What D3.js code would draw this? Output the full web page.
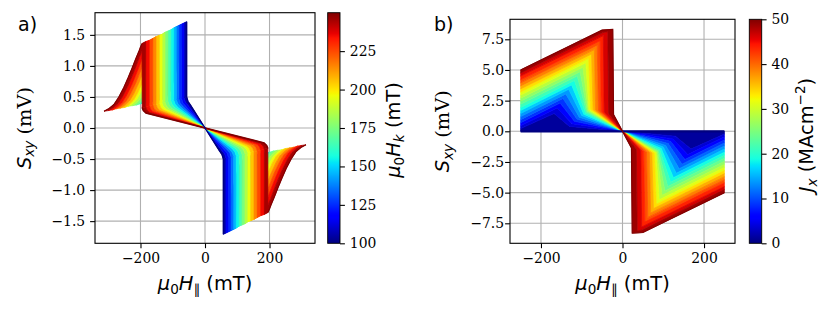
<!DOCTYPE html>
<html>
<head>
<meta charset="utf-8">
<script src="https://cdn.jsdelivr.net/npm/d3@7"></script>
<style>
  body { margin: 0; background: #fff; }
  svg { display: block; }
  .tick text { font-family: "DejaVu Serif", serif; font-size: 13.9px; fill: #000; }
  .tick line { stroke: #000; stroke-width: 1.1; }
</style>
</head>
<body>
<svg id="fig" width="831" height="312"></svg>
<script>

// ---------- panel a) one loop per anisotropy field mu0 Hk (mT) ----------
var anisotropyField = [100, 110, 120, 130, 140, 150, 160, 170, 180, 190, 200, 210, 220, 230, 240, 250]
// field where the sweep starts (|H|, mT) and signal there
var sweepLimitA = [125, 138, 150, 163, 175, 188, 200, 213, 225, 238, 250, 263, 275, 288, 300, 313]
var startSignalA = [0.47, 0.45, 0.44, 0.43, 0.41, 0.40, 0.39, 0.37, 0.36, 0.35, 0.33, 0.32, 0.31, 0.29, 0.28, 0.27]
// switching field (|H|, mT), signal just before and just after the jump
var switchFieldA = [57, 65, 73, 81, 89, 97, 106, 115, 124, 133, 142, 152, 162, 173, 184, 195]
var peakSignalA = [1.71, 1.69, 1.67, 1.65, 1.63, 1.61, 1.58, 1.56, 1.54, 1.51, 1.49, 1.47, 1.44, 1.41, 1.39, 1.36]
var dropSignalA = [0.50, 0.49, 0.48, 0.47, 0.46, 0.45, 0.44, 0.43, 0.42, 0.40, 0.39, 0.38, 0.37, 0.36, 0.34, 0.33]
// rounding and bend of the tail that runs into the origin
var roundFieldA = [53, 61, 69, 77, 85, 93, 102, 111, 120, 129, 138, 148, 158, 169, 180, 191]
var roundSignalA = [0.43, 0.42, 0.41, 0.40, 0.40, 0.39, 0.38, 0.37, 0.36, 0.345, 0.335, 0.325, 0.315, 0.305, 0.29, 0.28]
var bendFieldA = [45, 53, 61, 69, 77, 85, 94, 103, 112, 121, 130, 140, 150, 161, 172, 183]
var bendSignalA = [0.37, 0.365, 0.36, 0.35, 0.345, 0.335, 0.33, 0.32, 0.31, 0.30, 0.29, 0.28, 0.27, 0.26, 0.25, 0.24]
var riseShapeField = [0, 0.12, 0.26, 0.38, 0.52, 0.63, 0.74, 0.83, 0.92, 0.96, 1]
var riseShapeSignal = [0, 0.035, 0.10, 0.20, 0.35, 0.49, 0.64, 0.77, 0.89, 0.95, 1]

// ---------- panel b) one loop per current density Jx (MA/cm2) ----------
var currentDensity = [0, 2.5, 5, 7.5, 10, 12.5, 15, 17.5, 20, 22.5, 25, 27.5, 30, 32.5, 35, 37.5, 40, 42.5, 45, 47.5, 50]
var sweepLimitB = 250
var startSignalB = [0, 0.22, 0.45, 0.70, 0.95, 1.20, 1.45, 1.70, 1.95, 2.20, 2.45, 2.70, 2.95, 3.20, 3.45, 3.70, 3.95, 4.20, 4.50, 4.75, 5.00]
var crestFieldB = [175, 168, 160, 153, 146, 139, 132, 125, 118, 111, 104, 97, 90, 83, 76, 69, 62, 55, 47, 48, 50]
var crestSignalB = [0, 1.45, 1.90, 2.30, 2.68, 3.05, 3.42, 3.78, 4.15, 4.50, 4.86, 5.22, 5.58, 5.95, 6.30, 6.66, 7.02, 7.38, 7.80, 8.05, 8.25]
var edgeFieldB = [175, 168, 160, 153, 146, 139, 132, 125, 118, 111, 104, 97, 90, 83, 76, 69, 62, 55, 47, 36, 24]
var edgeSignalB = [0, 1.45, 1.90, 2.30, 2.68, 3.05, 3.42, 3.78, 4.15, 4.50, 4.86, 5.22, 5.58, 5.95, 6.30, 6.66, 7.02, 7.38, 7.80, 8.12, 8.30]
var footFieldB = [130, 130, 124, 118, 112, 106, 100, 95, 91, 88, 86, 84, 82, 78, 72, 66, 59, 52, 45, 34, 22]
var footSignalB = [0, 0.40, 0.62, 0.82, 1.00, 1.15, 1.28, 1.40, 1.50, 1.58, 1.64, 1.70, 1.75, 1.78, 1.76, 1.72, 1.68, 1.62, 1.55, 1.46, 1.36]

// ticks
var xTicks = [-200, 0, 200]
var yTicksA = [-1.5, -1.0, -0.5, 0, 0.5, 1.0, 1.5]
var yTicksB = [-7.5, -5.0, -2.5, 0, 2.5, 5.0, 7.5]
var cbarTicksA = [100, 125, 150, 175, 200, 225]
var cbarTicksB = [0, 10, 20, 30, 40, 50]


//matplotlib "jet"
var jetR = d3.scaleLinear().domain([0, 0.35, 0.66, 0.89, 1]).range([0, 0, 1, 1, 0.5]).clamp(true)
var jetG = d3.scaleLinear().domain([0, 0.125, 0.375, 0.64, 0.91, 1]).range([0, 0, 1, 1, 0, 0]).clamp(true)
var jetB = d3.scaleLinear().domain([0, 0.11, 0.34, 0.65, 1]).range([0.5, 1, 1, 0, 0]).clamp(true)
function jet(t) {
    return d3.rgb(jetR(t) * 255, jetG(t) * 255, jetB(t) * 255).formatHex()
}

var svg = d3.select("#fig")
svg.append("rect").attr("width", 831).attr("height", 312).attr("fill", "#fff")

var minus = function(s) { return s.replace("-", "\u2212") }

function mirror(pts) {
    //the loops are point symmetric about the origin
    return pts.map(function(p) { return [-p[0], -p[1]] })
}

function panel(opt) {

    var x = d3.scaleLinear().domain(opt.xDomain).range([opt.left, opt.right])
    var y = d3.scaleLinear().domain(opt.yDomain).range([opt.bottom, opt.top])
    var g = svg.append("g")

    //grid
    g.selectAll(".gx").data(xTicks).enter().append("line")
        .attr("x1", function(d) { return x(d) }).attr("x2", function(d) { return x(d) })
        .attr("y1", opt.top).attr("y2", opt.bottom)
        .attr("stroke", "#b0b0b0").attr("stroke-width", 1.1)
    g.selectAll(".gy").data(opt.yTicks).enter().append("line")
        .attr("y1", function(d) { return y(d) }).attr("y2", function(d) { return y(d) })
        .attr("x1", opt.left).attr("x2", opt.right)
        .attr("stroke", "#b0b0b0").attr("stroke-width", 1.1)

    var line = d3.line().x(function(d) { return x(d[0]) }).y(function(d) { return y(d[1]) })

    var layer = g.append("g")
    opt.draw(layer, line)

    //axes
    g.append("g").attr("transform", "translate(0," + opt.bottom + ")")
        .call(d3.axisBottom(x).tickValues(xTicks).tickSize(4.9).tickPadding(4.9).tickFormat(function(d) { return minus(String(d)) }))
        .call(function(a) { a.select(".domain").remove() })
    g.append("g").attr("transform", "translate(" + opt.left + ",0)")
        .call(d3.axisLeft(y).tickValues(opt.yTicks).tickSize(4.9).tickPadding(opt.yPad).tickFormat(function(d) { return minus(d3.format(".1f")(d)) }))
        .call(function(a) { a.select(".domain").remove() })

    g.append("rect")
        .attr("x", opt.left).attr("y", opt.top)
        .attr("width", opt.right - opt.left).attr("height", opt.bottom - opt.top)
        .attr("fill", "none").attr("stroke", "#000").attr("stroke-width", 1.1)

    //colour bar
    var gid = "grad" + opt.name
    var grad = svg.append("defs").append("linearGradient").attr("id", gid)
        .attr("x1", 0).attr("y1", 1).attr("x2", 0).attr("y2", 0)
    d3.range(0, 1.0001, 0.01).forEach(function(t) {
        grad.append("stop").attr("offset", t).attr("stop-color", jet(t))
    })
    var c = d3.scaleLinear().domain(opt.cDomain).range([opt.bottom, opt.ctop])
    g.append("rect")
        .attr("x", opt.cleft).attr("y", opt.ctop)
        .attr("width", opt.cright - opt.cleft).attr("height", opt.bottom - opt.ctop)
        .attr("fill", "url(#" + gid + ")").attr("stroke", "#000").attr("stroke-width", 0.9)
    g.append("g").attr("transform", "translate(" + opt.cright + ",0)")
        .call(d3.axisRight(c).tickValues(opt.cTicks).tickSize(4.9).tickPadding(4.9))
        .call(function(a) { a.select(".domain").remove() })

    //panel letter
    svg.append("text").attr("x", opt.letterX).attr("y", 31)
        .attr("font-family", "DejaVu Sans").attr("font-size", 19)
        .text(opt.name + ")")

    mathText(svg.append("text").attr("x", (opt.left + opt.right) / 2).attr("y", 290),
        [{t: "\u03bc", i: 1}, {t: "0", sub: 1}, {t: "H", i: 1}, {t: "\u2225", sub: 1}, {t: " (mT)"}])

    mathText(svg.append("text").attr("transform", "translate(" + opt.yLabelX + "," + ((opt.top + opt.bottom) / 2) + ") rotate(-90)"),
        [{t: "S", i: 1}, {t: "xy", sub: 1, i: 1}, {t: " (mV)", serif: 1}])

    mathText(svg.append("text").attr("transform", "translate(" + opt.cLabelX + "," + opt.cLabelY + ") rotate(-90)"),
        opt.cLabel)
}

function mathText(text, parts) {
    var fs = 19.4
    text.attr("text-anchor", "middle").attr("font-size", fs).attr("font-family", "DejaVu Sans")
    var shift = 0
    parts.forEach(function(p) {
        var target = p.sub ? fs * 0.2 : (p.sup ? -fs * 0.42 : 0)
        var ts = text.append("tspan").text(p.t).attr("dy", target - shift)
        if (p.sub || p.sup) ts.attr("font-size", fs * 0.7)
        if (p.i) ts.attr("font-style", "italic")
        if (p.serif) ts.attr("font-family", "DejaVu Serif")
        shift = target
    })
}

function poly(layer, line, pts, colour) {
    [pts, mirror(pts)].forEach(function(p) {
        layer.append("path").attr("d", line(p) + "Z")
            .attr("fill", colour).attr("stroke", colour).attr("stroke-width", 0.7)
    })
}

function polyline(layer, line, pts, colour, w) {
    [pts, mirror(pts)].forEach(function(p) {
        layer.append("path").attr("d", line(p))
            .attr("fill", "none").attr("stroke", colour).attr("stroke-width", w)
    })
}

// ---------------- panel a ----------------
function riseA(i) {
    var h0 = -sweepLimitA[i], h1 = -switchFieldA[i]
    var s0 = startSignalA[i], s1 = peakSignalA[i]
    return riseShapeField.map(function(f, k) {
        return [h0 + f * (h1 - h0), s0 + riseShapeSignal[k] * (s1 - s0)]
    })
}
function tailA(i) {
    return [
        [-switchFieldA[i], dropSignalA[i]],
        [-roundFieldA[i], roundSignalA[i]],
        [-bendFieldA[i], bendSignalA[i]],
        [0, 0]
    ]
}
function colourA(i) {
    var hk = (anisotropyField[i] + anisotropyField[i - 1]) / 2
    return jet((hk - 100) / 150)
}

panel({
    name: "a",
    left: 95, right: 315, top: 12.7, bottom: 243.3,
    xDomain: [-341, 341], yDomain: [-1.857, 1.857],
    yTicks: yTicksA, yPad: 4.9,
    cleft: 327.7, cright: 340, ctop: 12.7, cDomain: [100, 250], cTicks: cbarTicksA,
    letterX: 18, yLabelX: 30.5, cLabelX: 400, cLabelY: 130,
    cLabel: [{t: "\u03bc", i: 1}, {t: "0", sub: 1}, {t: "H", i: 1}, {t: "k", sub: 1, i: 1}, {t: " (mT)"}],
    draw: function(layer, line) {
        var n = anisotropyField.length
        //rising branches (the outer lobes)
        for (var i = 1; i < n; i++) {
            poly(layer, line, riseA(i).concat(riseA(i - 1).reverse()), colourA(i))
        }
        //vertical jumps
        for (var i = 1; i < n; i++) {
            poly(layer, line, [
                [-switchFieldA[i], peakSignalA[i]], [-switchFieldA[i - 1], peakSignalA[i - 1]],
                [-switchFieldA[i - 1], dropSignalA[i - 1]], [-switchFieldA[i], dropSignalA[i]]
            ], colourA(i))
        }
        //tails into the origin
        for (var i = 1; i < n; i++) {
            poly(layer, line, tailA(i - 1).concat(tailA(i).reverse()), colourA(i))
        }
        polyline(layer, line, riseA(n - 1), jet(1), 1.2)
        polyline(layer, line, tailA(n - 1), jet(1), 1.6)
        polyline(layer, line, [[-switchFieldA[0], peakSignalA[0]]].concat(tailA(0)), jet(0), 1.4)
    }
})

// ---------------- panel b ----------------
function halfB(i) {
    return [
        [-sweepLimitB, startSignalB[i]],
        [-crestFieldB[i], crestSignalB[i]],
        [-edgeFieldB[i], edgeSignalB[i]],
        [-footFieldB[i], footSignalB[i]],
        [0, 0]
    ]
}

panel({
    name: "b",
    left: 510, right: 735, top: 19.3, bottom: 243.3,
    xDomain: [-276, 276], yDomain: [-9.13, 9.13],
    yTicks: yTicksB, yPad: 1,
    cleft: 749.3, cright: 761.7, ctop: 19.3, cDomain: [0, 50], cTicks: cbarTicksB,
    letterX: 434, yLabelX: 449, cLabelX: 813, cLabelY: 135,
    cLabel: [{t: "J", i: 1}, {t: "x", sub: 1, i: 1}, {t: " (MAcm"}, {t: "\u22122", sup: 1}, {t: ")"}],
    draw: function(layer, line) {
        var n = currentDensity.length
        for (var i = 1; i < n; i++) {
            var mid = (currentDensity[i] + currentDensity[i - 1]) / 2
            poly(layer, line, halfB(i).concat(halfB(i - 1).reverse()), jet(mid / 50))
        }
        polyline(layer, line, halfB(0), jet(0), 2.2)
        polyline(layer, line, halfB(n - 1), jet(1), 1.2)
    }
})

</script>
</body>
</html>
